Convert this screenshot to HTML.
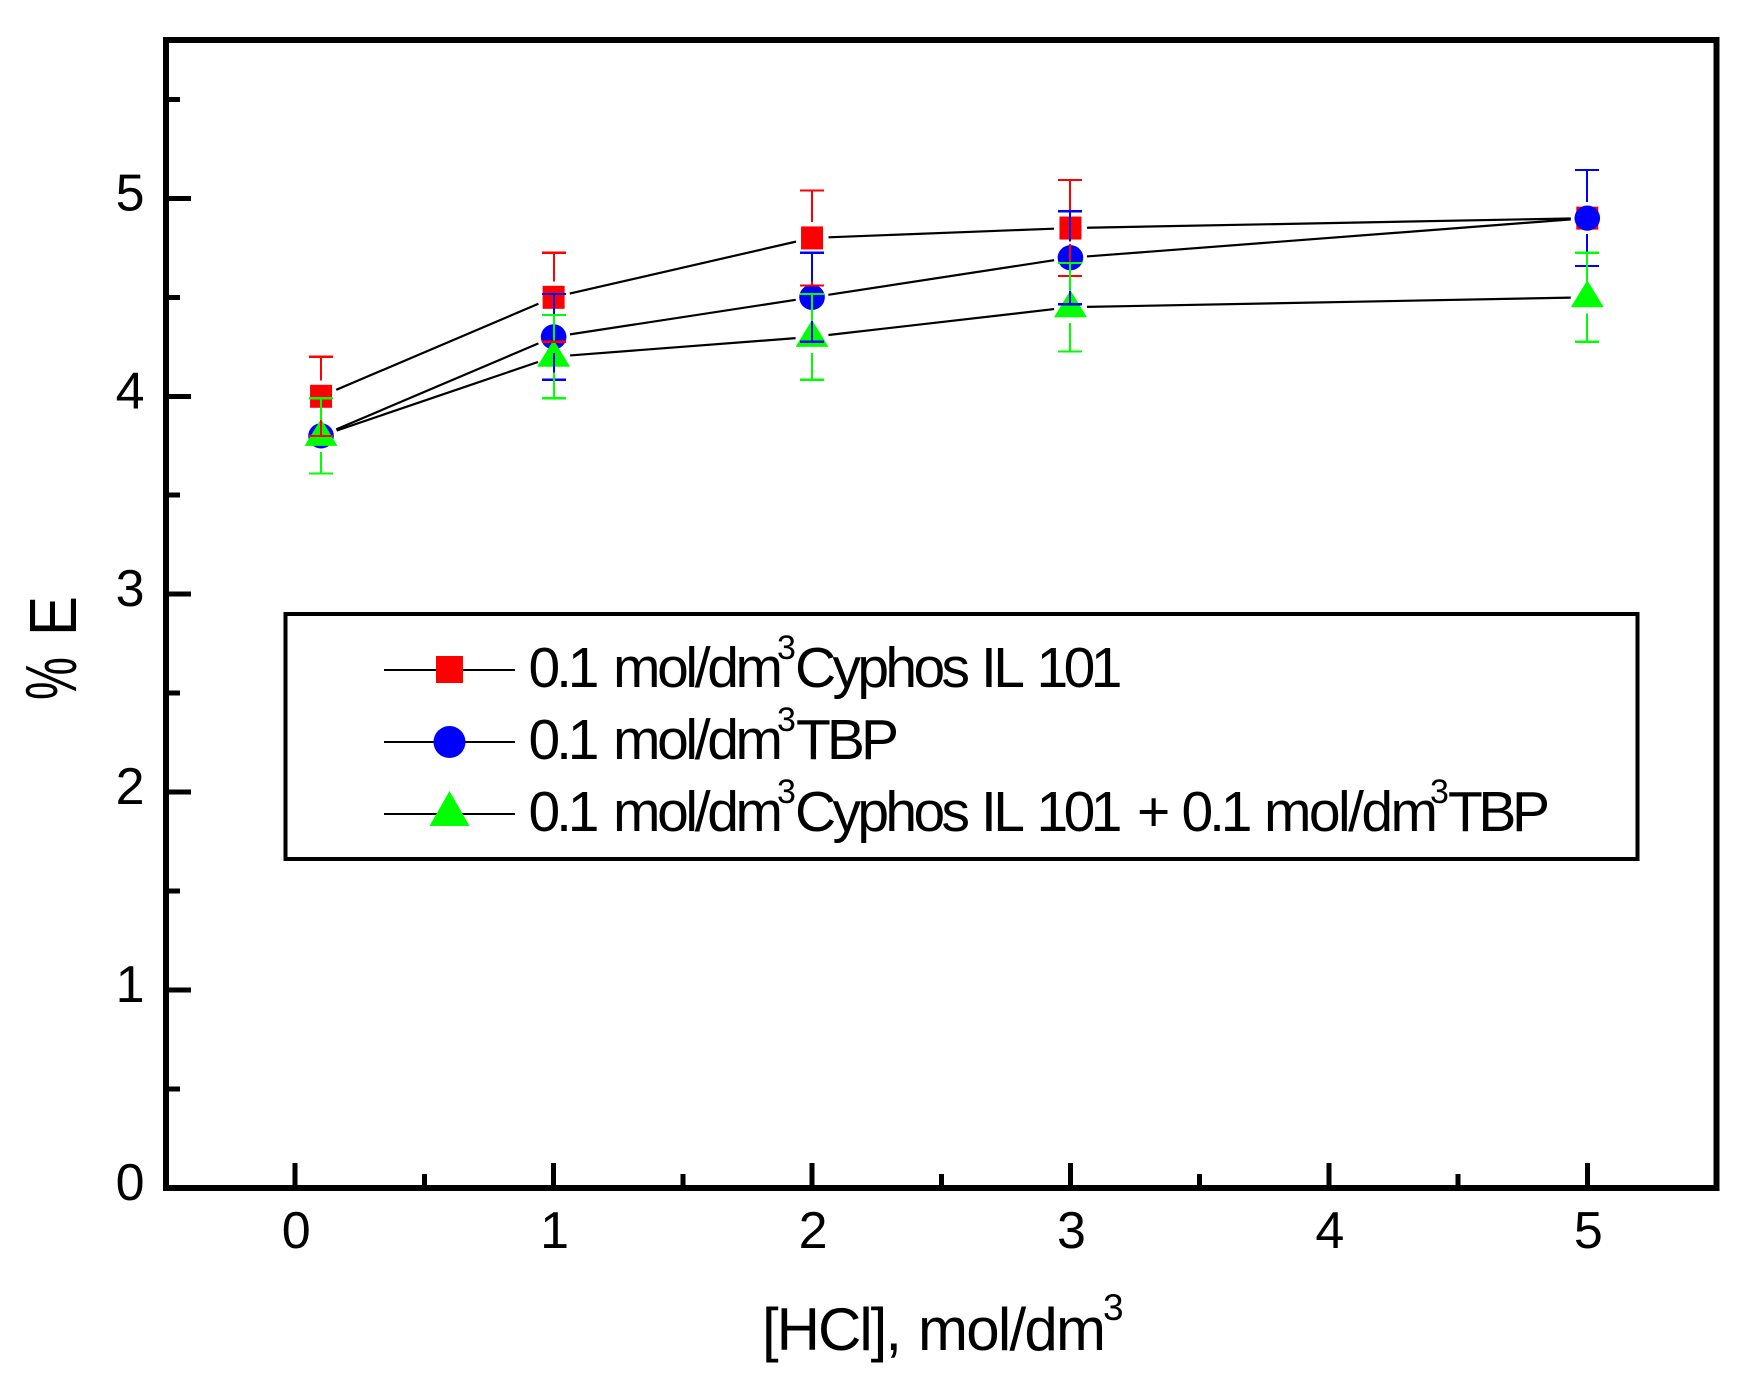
<!DOCTYPE html>
<html lang="en">
<head>
<meta charset="utf-8">
<title>% E vs HCl concentration</title>
<style>
html,body{margin:0;padding:0;background:#fff;}
svg{display:block;}
text{font-family:"Liberation Sans",Arial,sans-serif;fill:#000;}
</style>
</head>
<body>
<svg id="chart" xmlns="http://www.w3.org/2000/svg" width="1741" height="1386" viewBox="0 0 1741 1386">
  <rect x="0" y="0" width="1741" height="1386" fill="#fff"/>
  <g id="ticks"></g>
  <g id="lines"></g>
  <g id="symbols"></g>
  <g id="errors"></g>
  <rect x="166" y="40" width="1550.5" height="1148" fill="none" stroke="#000" stroke-width="6" shape-rendering="crispEdges"/>

  <g>
    <text x="762" y="1350" font-size="60" textLength="140" lengthAdjust="spacing">[HCl],</text>
    <text x="918" y="1350" font-size="60" textLength="188" lengthAdjust="spacing">mol/dm</text>
    <text x="1103" y="1320" font-size="37">3</text>
  </g>
  <g transform="translate(76,699) rotate(-90)">
    <text x="-1" y="0" font-size="72" textLength="43" lengthAdjust="spacingAndGlyphs">%</text>
    <text x="63" y="0" font-size="67" textLength="40" lengthAdjust="spacingAndGlyphs">E</text>
  </g>

  <g>
    <rect x="285.5" y="614" width="1352" height="245" fill="#fff" stroke="#000" stroke-width="4" shape-rendering="crispEdges"/>

    <g>
      <line x1="384" x2="515" y1="670" y2="670" stroke="#000" stroke-width="2"/>
      <rect x="436" y="656" width="27" height="27" fill="#ff0000"/>
      <g font-size="57">
        <text x="528.5" y="687" textLength="71" lengthAdjust="spacing">0.1</text>
        <text x="613" y="687" textLength="170" lengthAdjust="spacing">mol/dm</text>
        <text x="777" y="659" font-size="34">3</text>
        <text x="795" y="687" textLength="175" lengthAdjust="spacing">Cyphos</text>
        <text x="981" y="687" textLength="44" lengthAdjust="spacing">IL</text>
        <text x="1036.5" y="687" textLength="86" lengthAdjust="spacing">101</text>
      </g>
    </g>

    <g>
      <line x1="384" x2="515" y1="742" y2="742" stroke="#000" stroke-width="2"/>
      <ellipse cx="449.5" cy="742" rx="16" ry="16" fill="#0000ff"/>
      <g font-size="57">
        <text x="528.5" y="759" textLength="71" lengthAdjust="spacing">0.1</text>
        <text x="613" y="759" textLength="170" lengthAdjust="spacing">mol/dm</text>
        <text x="777" y="731" font-size="34">3</text>
        <text x="796" y="759" textLength="103" lengthAdjust="spacing">TBP</text>
      </g>
    </g>

    <g>
      <line x1="384" x2="515" y1="814" y2="814" stroke="#000" stroke-width="2"/>
      <polygon points="449.5,791 469.5,826 429.5,826" fill="#00ff00"/>
      <g font-size="57">
        <text x="528.5" y="831" textLength="71" lengthAdjust="spacing">0.1</text>
        <text x="613" y="831" textLength="170" lengthAdjust="spacing">mol/dm</text>
        <text x="777" y="803" font-size="34">3</text>
        <text x="795" y="831" textLength="175" lengthAdjust="spacing">Cyphos</text>
        <text x="981" y="831" textLength="44" lengthAdjust="spacing">IL</text>
        <text x="1036.5" y="831" textLength="86" lengthAdjust="spacing">101</text>
        <text x="1137" y="831">+</text>
        <text x="1181.5" y="831" textLength="71" lengthAdjust="spacing">0.1</text>
        <text x="1264" y="831" textLength="174" lengthAdjust="spacing">mol/dm</text>
        <text x="1430" y="803" font-size="34">3</text>
        <text x="1448" y="831" textLength="102" lengthAdjust="spacing">TBP</text>
      </g>
    </g>
  </g>
</svg>
<script>
const hclValues = [0.1, 1, 2, 3, 5];
const cyphosValues = [4.0, 4.5, 4.8, 4.85, 4.9];
const cyphosErrors = [0.2, 0.225, 0.24, 0.2425, 0.2425];
const tbpValues = [3.8, 4.3, 4.5, 4.7, 4.9];
const tbpErrors = [0.19, 0.217, 0.225, 0.235, 0.2425];
const mixtureValues = [3.8, 4.2, 4.3, 4.45, 4.5];
const mixtureErrors = [0.19, 0.21, 0.217, 0.2235, 0.225];
const xMajorTicks = [0, 1, 2, 3, 4, 5];
const xMinorTicks = [0.5, 1.5, 2.5, 3.5, 4.5];
const yMajorTicks = [0, 1, 2, 3, 4, 5];
const yMinorTicks = [0.5, 1.5, 2.5, 3.5, 4.5, 5.5];

const NS = 'http://www.w3.org/2000/svg';
const xScale = v => 166 + (v + 0.5) * (1550.5 / 6);
const yScale = v => 1188 - v * (1148 / 5.8);
const ticksLayer = document.getElementById('ticks');
const linesLayer = document.getElementById('lines');
const symbolsLayer = document.getElementById('symbols');
const errorsLayer = document.getElementById('errors');

function make(tag, props) {
  const el = document.createElementNS(NS, tag);
  for (const k in props) el.setAttribute(k, props[k]);
  return el;
}

xMajorTicks.forEach(v => {
  const t = make('rect', {x: xScale(v) - 2.5, y: 1163, width: 5, height: 25, fill: '#000', 'shape-rendering': 'crispEdges'});
  
  
  ticksLayer.appendChild(t);
  const l = make('text', {x: xScale(v) + 1, y: 1248, 'font-size': 52, 'text-anchor': 'middle'});
  
  
  l.textContent = v;
  ticksLayer.appendChild(l);
});
xMinorTicks.forEach(v => {
  const t = make('rect', {x: xScale(v) - 2.5, y: 1174, width: 5, height: 14, fill: '#000', 'shape-rendering': 'crispEdges'});
  
  
  ticksLayer.appendChild(t);
});
yMajorTicks.forEach(v => {
  const t = make('rect', {x: 166, y: yScale(v) - 2.5, width: 25, height: 5, fill: '#000', 'shape-rendering': 'crispEdges'});
  
  
  ticksLayer.appendChild(t);
  const l = make('text', {x: 144.5, y: yScale(v) + 12, 'font-size': 52, 'text-anchor': 'end'});
  
  
  l.textContent = v;
  ticksLayer.appendChild(l);
});
yMinorTicks.forEach(v => {
  const t = make('rect', {x: 166, y: yScale(v) - 2.5, width: 14, height: 5, fill: '#000', 'shape-rendering': 'crispEdges'});
  
  
  ticksLayer.appendChild(t);
});

function drawLine(values) {
  const gap = 16.5;
  for (let i = 0; i < values.length - 1; i++) {
    const ax = xScale(hclValues[i]), ay = yScale(values[i]);
    const bx = xScale(hclValues[i + 1]), by = yScale(values[i + 1]);
    const len = Math.hypot(bx - ax, by - ay);
    const ux = (bx - ax) / len, uy = (by - ay) / len;
    const seg = make('line', {x1: ax + ux * gap, y1: ay + uy * gap, x2: bx - ux * gap, y2: by - uy * gap, stroke: '#000', 'stroke-width': 2.2});
    
    
    linesLayer.appendChild(seg);
  }
}

function drawErrors(values, errors, color) {
  const gap = 16;
  values.forEach((v, i) => {
    const x = Math.round(xScale(hclValues[i]));
    const y = yScale(v);
    const top = yScale(v + errors[i]);
    const bottom = yScale(v - errors[i]);
    const bar = make('path', {
      d: `M${x - 12} ${top}H${x + 12}M${x} ${top}V${y - gap}M${x} ${y + gap}V${bottom}M${x - 12} ${bottom}H${x + 12}`,
      stroke: color, 'stroke-width': 2.2, fill: 'none', 'shape-rendering': 'crispEdges'
    });
    
    
    errorsLayer.appendChild(bar);
  });
}

drawLine(cyphosValues);
drawLine(tbpValues);
drawLine(mixtureValues);

cyphosValues.forEach((v, i) => {
  const s = make('rect', {x: xScale(hclValues[i]) - 11, y: yScale(v) - 11.5, width: 22, height: 23, fill: '#ff0000'});
  
  
  symbolsLayer.appendChild(s);
});
tbpValues.forEach((v, i) => {
  const s = make('ellipse', {cx: xScale(hclValues[i]), cy: yScale(v), rx: 12.8, ry: 12.6, fill: '#0000ff'});
  
  
  symbolsLayer.appendChild(s);
});
mixtureValues.forEach((v, i) => {
  const x = xScale(hclValues[i]), y = yScale(v);
  const s = make('polygon', {points: `${x},${y - 17} ${x + 16.5},${y + 10} ${x - 16.5},${y + 10}`, fill: '#00ff00'});
  
  
  symbolsLayer.appendChild(s);
});

drawErrors(cyphosValues, cyphosErrors, '#ff0000');
drawErrors(tbpValues, tbpErrors, '#0000ff');
drawErrors(mixtureValues, mixtureErrors, '#00ff00');
</script>
</body>
</html>
